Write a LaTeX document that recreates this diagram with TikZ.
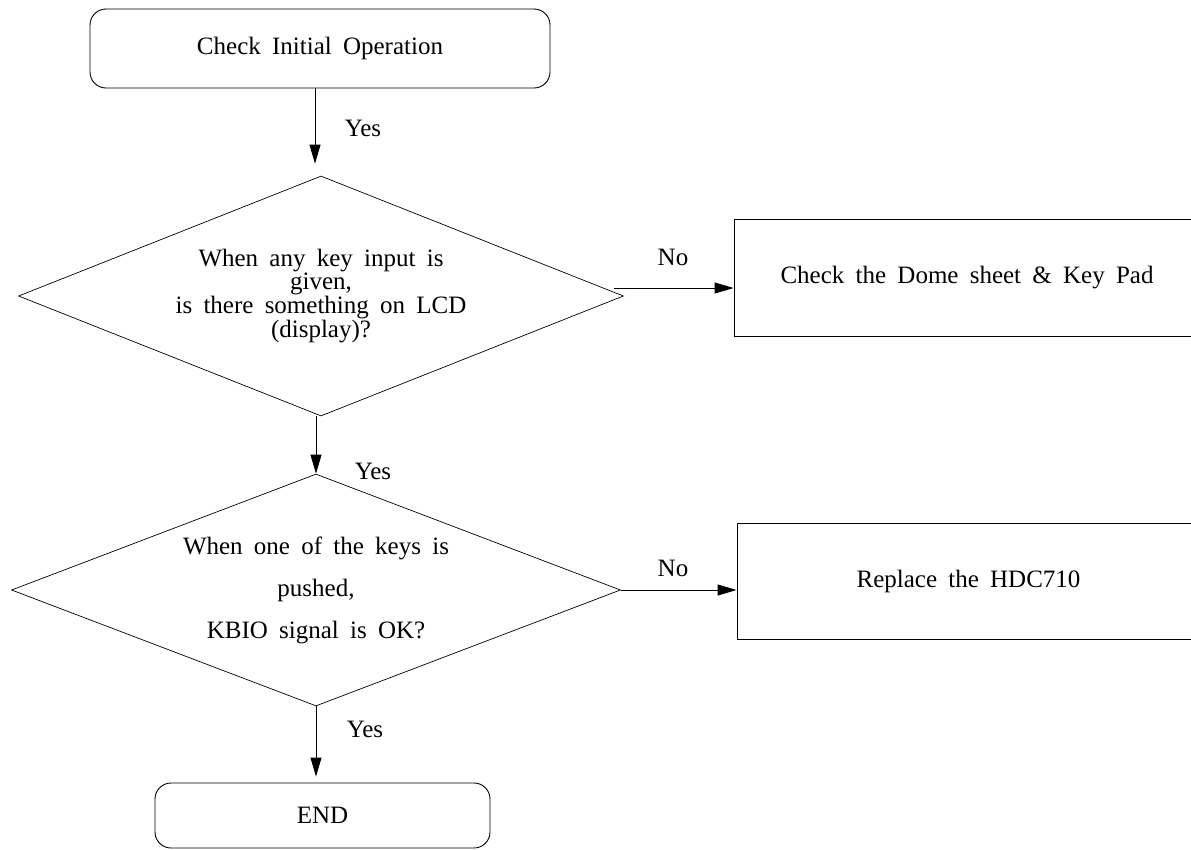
\documentclass[tikz,border=0pt]{standalone}
\usepackage{fontspec}
\setmainfont{Liberation Serif}[WordSpace=1.8]
\usetikzlibrary{arrows.meta,shapes.geometric}

\begin{document}
\begin{tikzpicture}[x=1pt,y=-1pt,font=\fontsize{25}{30}\selectfont,
  flowround/.style={draw,rounded corners=16pt,line width=0.9pt,inner sep=0pt},
  flowbox/.style={draw,line width=0.9pt,inner sep=0pt},
  flowdec/.style={draw,diamond,aspect=2.5,inner sep=0pt,line width=0.7pt,align=center},
  flowarr/.style={-{Triangle[length=19pt,width=11pt]},line width=0.9pt},
  flowlab/.style={inner sep=0pt}]
  \useasboundingbox (0,0) rectangle (1191,849);

  \node[flowround,minimum width=460pt,minimum height=79pt] (start) at (320,48.5)
    {Check Initial Operation};
  \node[flowdec,minimum width=605pt,minimum height=240pt,
    font=\fontsize{25}{21}\selectfont] (keyin) at (321,296)
    {When any key input is\\given,\\is there something on LCD\\(display)?};
  \node[flowbox,minimum width=466pt,minimum height=117pt] (dome) at (967,277.5)
    {Check the Dome sheet \& Key Pad};
  \node[flowdec,minimum width=609pt,minimum height=232pt,
    font=\fontsize{25}{42}\selectfont] (kbio) at (316,590)
    {When one of the keys is\\pushed,\\KBIO signal is OK?};
  \node[flowbox,minimum width=463pt,minimum height=116pt] (hdc) at (968.5,581)
    {Replace the HDC710};
  \node[flowround,minimum width=335pt,minimum height=65pt] (finish) at (322.5,815.5)
    {END};

  \draw[flowarr] ([xshift=-5pt]start.south) -- ([shift={(-6pt,12pt)}]keyin.north);
  \draw[flowarr] ([shift={(-10pt,8pt)}]keyin.east) coordinate (nodome) -- (nodome -| dome.west);
  \draw[flowarr] ([xshift=-5pt]keyin.south) -- (kbio.north);
  \draw[flowarr] (kbio.east) -- (kbio.east -| hdc.west);
  \draw[flowarr,shorten >=6pt] (kbio.south) -- (kbio.south |- finish.north);

  \node[flowlab] (yes1) at (363,128) {Yes};
  \node[flowlab] (no1) at (673,257) {No};
  \node[flowlab] (yes2) at (373,471) {Yes};
  \node[flowlab] (no2) at (673,568) {No};
  \node[flowlab] (yes3) at (365,729) {Yes};
\end{tikzpicture}
\end{document}
